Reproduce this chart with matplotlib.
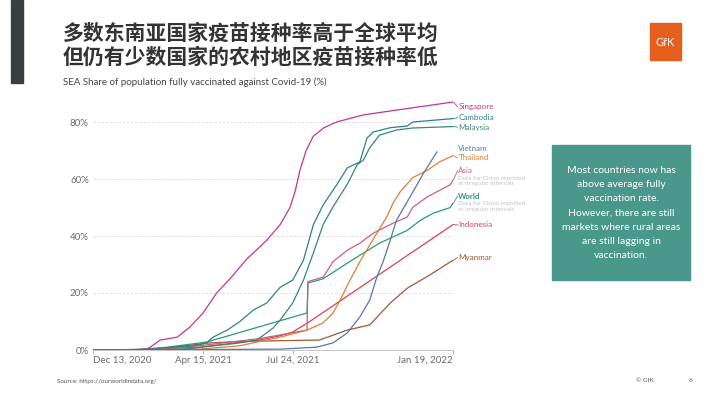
import matplotlib
matplotlib.use('Agg')
import matplotlib.pyplot as plt
from matplotlib.patches import Rectangle
import pandas as pd

plt.rcParams['font.family'] = ['Lato', 'Noto Sans CJK SC', 'DejaVu Sans']

# data (% of population fully vaccinated)
singapore_dates = ['2020-12-13', '2021-02-09', '2021-02-15', '2021-02-26', '2021-03-17', '2021-03-31',
                   '2021-04-15', '2021-04-30', '2021-05-15', '2021-06-03', '2021-06-25', '2021-07-10',
                   '2021-07-21', '2021-07-27', '2021-08-01', '2021-08-08', '2021-08-16', '2021-08-28',
                   '2021-09-11', '2021-10-11', '2021-12-05', '2022-01-19']
singapore_vals = [0, 0, 1, 3.5, 4.5, 8, 13, 20, 25, 32, 38.5, 44, 50, 56, 63, 70, 75, 78, 80, 82.5, 85, 87]

cambodia_dates = ['2020-12-13', '2021-01-23', '2021-04-06', '2021-04-19', '2021-04-26', '2021-05-12',
                  '2021-05-26', '2021-06-10', '2021-06-25', '2021-07-10', '2021-07-24', '2021-08-05',
                  '2021-08-16', '2021-08-27', '2021-09-11', '2021-09-23', '2021-10-07', '2021-10-15',
                  '2021-10-22', '2021-11-10', '2021-11-29', '2021-12-05', '2022-01-19']
cambodia_vals = [0, 0, 1.5, 2.5, 4.5, 7, 10, 14, 16.5, 22, 24.5, 31.5, 43.9, 50.9, 57.9, 63.9, 66,
                 74.4, 76.5, 78, 78.6, 80, 81.2]

malaysia_dates = ['2020-12-13', '2021-02-15', '2021-03-31', '2021-05-26', '2021-06-14', '2021-07-02',
                  '2021-07-10', '2021-07-24', '2021-08-05', '2021-08-16', '2021-08-27', '2021-09-07',
                  '2021-09-23', '2021-10-04', '2021-10-11', '2021-10-18', '2021-10-29', '2021-11-17',
                  '2021-12-05', '2022-01-19']
malaysia_vals = [0, 0, 0.5, 2.5, 3.5, 7.7, 10.5, 16.5, 24.5, 34, 44, 50.2, 58.2, 65, 66.7, 71, 75.4,
                 77.2, 77.9, 78.4]

vietnam_dates = ['2020-12-13', '2021-07-10', '2021-08-20', '2021-09-07', '2021-09-23', '2021-10-07',
                 '2021-10-18', '2021-10-26', '2021-11-02', '2021-11-10', '2021-11-17', '2021-12-02',
                 '2021-12-17', '2022-01-01']
vietnam_vals = [0, 0.3, 1, 2.5, 6, 11.6, 17.5, 25.6, 31, 38.6, 45.6, 53.7, 62, 69.5]

thailand_dates = ['2020-12-13', '2021-02-03', '2021-04-11', '2021-05-26', '2021-07-10', '2021-08-09',
                  '2021-08-27', '2021-09-07', '2021-09-15', '2021-09-26', '2021-10-07', '2021-10-26',
                  '2021-11-06', '2021-11-13', '2021-11-21', '2021-12-05', '2021-12-21', '2022-01-04',
                  '2022-01-19']
thailand_vals = [0, 0, 0.3, 1.5, 4.5, 7, 9.5, 13, 17.5, 24.5, 31, 41, 46.7, 51.5, 55.5, 60.5, 63,
                 66, 68.2]

asia_dates = ['2020-12-13', '2021-02-03', '2021-04-11', '2021-06-17', '2021-08-09', '2021-08-10',
              '2021-08-27', '2021-09-01', '2021-09-07', '2021-09-23', '2021-10-07', '2021-10-22',
              '2021-11-13', '2021-11-29', '2021-12-05', '2021-12-21', '2022-01-04', '2022-01-16',
              '2022-01-19']
asia_vals = [0, 0.2, 1.5, 4, 7, 24, 25.6, 28, 31, 35, 37.5, 41, 44.5, 46.7, 50, 53.7, 56, 58, 59.6]

world_dates = ['2020-12-13', '2021-02-15', '2021-04-19', '2021-08-09', '2021-08-10', '2021-08-27',
               '2021-09-23', '2021-10-11', '2021-10-29', '2021-11-29', '2021-12-14', '2021-12-28',
               '2022-01-16', '2022-01-19']
world_vals = [0, 0.2, 2.8, 13, 23.5, 25, 30.5, 34, 37.5, 42, 45.6, 48, 50, 51.5]

indonesia_dates = ['2020-12-13', '2021-02-03', '2021-04-11', '2021-06-17', '2021-07-10', '2021-07-24',
                   '2021-08-12', '2022-01-19']
indonesia_vals = [0, 0.2, 1, 3.5, 5, 6.3, 10, 44]

myanmar_dates = ['2020-12-13', '2021-01-27', '2021-02-26', '2021-04-23', '2021-05-26', '2021-08-23',
                 '2021-09-23', '2021-10-18', '2021-11-10', '2021-11-29', '2021-12-24', '2022-01-19']
myanmar_vals = [0, 0, 0.5, 2.5, 3, 3.5, 7, 8.8, 16.5, 21.7, 26.3, 31.5]

series = [
    ('Myanmar', myanmar_dates, myanmar_vals, '#a0593a'),
    ('Indonesia', indonesia_dates, indonesia_vals, '#d8415c'),
    ('World', world_dates, world_vals, '#2a9b6f'),
    ('Asia', asia_dates, asia_vals, '#c8607e'),
    ('Thailand', thailand_dates, thailand_vals, '#dd8033'),
    ('Vietnam', vietnam_dates, vietnam_vals, '#5b77a8'),
    ('Malaysia', malaysia_dates, malaysia_vals, '#35887a'),
    ('Cambodia', cambodia_dates, cambodia_vals, '#2e7f8f'),
    ('Singapore', singapore_dates, singapore_vals, '#c4378f'),
]
# label y positions at the right edge
label_y = {'Singapore': 85.4, 'Cambodia': 81.5, 'Malaysia': 78.2, 'Vietnam': 70.6, 'Thailand': 67.4,
           'Asia': 62.9, 'World': 54.0, 'Indonesia': 43.9, 'Myanmar': 32.4}
china_note = 'Data for China reported\nat irregular intervals'

x_ticks = ['2020-12-13', '2021-04-15', '2021-07-24', '2022-01-19']
x_ticklabels = ['Dec 13, 2020', 'Apr 15, 2021', 'Jul 24, 2021', 'Jan 19, 2022']
y_ticks = [0, 20, 40, 60, 80]

fig = plt.figure(figsize=(7.1, 3.99), dpi=100)
ax = fig.add_axes([93/710, 49/399, 360/710, 250.8/399])

for name, d, v, c in series:
    ax.plot(pd.to_datetime(d), v, color=c, lw=0.9, solid_joinstyle='round')

start = pd.Timestamp('2020-12-13')
end = pd.Timestamp('2022-01-19')
ax.set_xlim(start, end)
ax.set_ylim(0, 88)

lab_x = end + pd.Timedelta(days=6)
for name, d, v, c in series:
    ly = label_y[name]
    last = pd.Timestamp(d[-1])
    if last == end:
        ax.plot([end + pd.Timedelta(days=0.5), end + pd.Timedelta(days=5)], [v[-1], ly],
                color=c, lw=0.6, clip_on=False)
    ax.text(lab_x, ly, name, color=c, fontsize=5.8, va='center', ha='left', clip_on=False,
            fontweight='bold' if name == 'World' else 'normal')
    if name in ('Asia', 'World'):
        ax.text(lab_x, ly - 1.8, china_note, color='#c4c4c4', fontsize=4.6, va='top', ha='left',
                linespacing=1.15, clip_on=False)

ax.set_yticks(y_ticks)
ax.set_yticklabels([f'{t}%' for t in y_ticks], fontsize=7, color='#6b6b6b')
ax.yaxis.grid(True, color='#dcdcdc', lw=0.6, ls=(0, (3, 2)))
ax.set_axisbelow(True)
ax.tick_params(axis='y', length=0, pad=3)

ax.set_xticks(pd.to_datetime(x_ticks))
ax.set_xticklabels(x_ticklabels, fontsize=7, color='#6b6b6b')
ax.tick_params(axis='x', length=3, color='#aaaaaa', width=0.6, pad=1)
tl = ax.get_xticklabels()
tl[0].set_ha('left')
tl[-1].set_ha('right')

for s in ['top', 'right', 'left']:
    ax.spines[s].set_visible(False)
ax.spines['bottom'].set_color('#bbbbbb')
ax.spines['bottom'].set_linewidth(0.6)

# page decorations
fig.patches.append(Rectangle((11/710, 1 - 83/399), 12/710, 83/399, transform=fig.transFigure,
                             color='#3a3f44', zorder=0))
fig.text(63/710, 1 - 33/399, '多数东南亚国家疫苗接种率高于全球平均', fontsize=15, fontweight='bold',
         color='#333333', va='center', ha='left', family=['Noto Sans CJK SC', 'DejaVu Sans'])
fig.text(63/710, 1 - 57/399, '但仍有少数国家的农村地区疫苗接种率低', fontsize=15, fontweight='bold',
         color='#333333', va='center', ha='left', family=['Noto Sans CJK SC', 'DejaVu Sans'])
fig.text(63/710, 1 - 82/399, 'SEA Share of population fully vaccinated against Covid-19 (%)',
         fontsize=7, color='#444444', va='center', ha='left')

# GfK logo
fig.patches.append(Rectangle((650/710, 1 - 60/399), 31/710, 37/399, transform=fig.transFigure,
                             color='#e5601f', zorder=1))
fig.text(665.5/710, 1 - 43/399, 'GfK', fontsize=8, color='white', ha='center', va='center')

# callout box
fig.patches.append(Rectangle((552/710, 1 - 280/399), 138/710, 135/399, transform=fig.transFigure,
                             color='#4a978c', zorder=1))
fig.text(621/710, 1 - 213/399,
         'Most countries now has\nabove average fully\nvaccination rate.\nHowever, there are still\n'
         'markets where rural areas\nare still lagging in\nvaccination.',
         fontsize=7.5, color='white', ha='center', va='center', linespacing=1.75)

fig.text(57/710, 1 - 381/399, 'Source: https://ourworldindata.org/', fontsize=4.5, color='#555555',
         va='center')
fig.text(636/710, 1 - 381/399, '© GfK', fontsize=4.5, color='#555555', va='center')
fig.text(689/710, 1 - 381/399, '6', fontsize=4.5, color='#555555', va='center')

fig.savefig('out.png', dpi=100)
